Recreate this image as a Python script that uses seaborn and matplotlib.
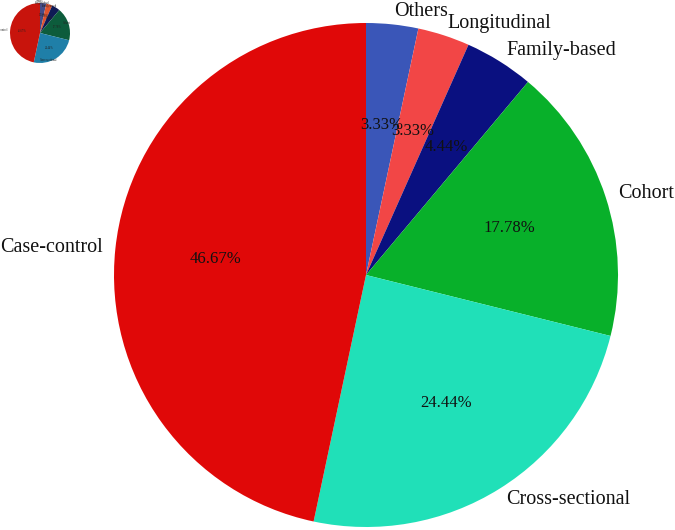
import matplotlib
matplotlib.use("Agg")
import matplotlib.pyplot as plt
import seaborn as sns

# study designs, counts (percent of 90 studies)
designs = ["Others", "Longitudinal", "Family-based", "Cohort", "Cross-sectional", "Case-control"]
counts = [3, 3, 4, 16, 22, 42]
main_colors = ["#3a56b8", "#f24646", "#0a1080", "#08b02a", "#20e0b8", "#e00808"]
thumb_colors = ["#454c88", "#e0522e", "#0f1a55", "#0d5c3c", "#1f7fa8", "#c8140c"]

sns.set_theme(style="white")
SERIF = ["Liberation Serif", "DejaVu Serif"]
plt.rcParams["font.family"] = SERIF

W, H = 675, 530
fig = plt.figure(figsize=(W / 100, H / 100), dpi=100)

# main pie, centre (366, 275) px, radius 252 px
cx, cy, r = 366, 275, 252
ax = fig.add_axes([(cx - r) / W, (H - cy - r) / H, 2 * r / W, 2 * r / H])
wedges, texts, autotexts = ax.pie(
    counts, labels=designs, colors=main_colors, startangle=90, counterclock=False,
    autopct="%.2f%%", pctdistance=0.6, labeldistance=1.05,
    wedgeprops=dict(linewidth=0),
    textprops=dict(fontsize=14.5, color="#111111", family=SERIF))
for t in autotexts:
    t.set_fontsize(12)

# small thumbnail copy in the top-left corner, drawn in the same axes
tx, ty, tr = 40, 33, 30
ax.pie(counts, labels=designs, colors=thumb_colors, startangle=90, counterclock=False,
       center=((tx - cx) / r, (cy - ty) / r), radius=tr / r,
       autopct="%.2f%%", pctdistance=0.6, labeldistance=1.06,
       wedgeprops=dict(linewidth=0, clip_on=False),
       textprops=dict(fontsize=2, color="#222222", family=SERIF))

ax.set_xlim(-1, 1)
ax.set_ylim(-1, 1)
ax.set_aspect("equal")
ax.axis("off")

fig.savefig("out.png", dpi=100)
